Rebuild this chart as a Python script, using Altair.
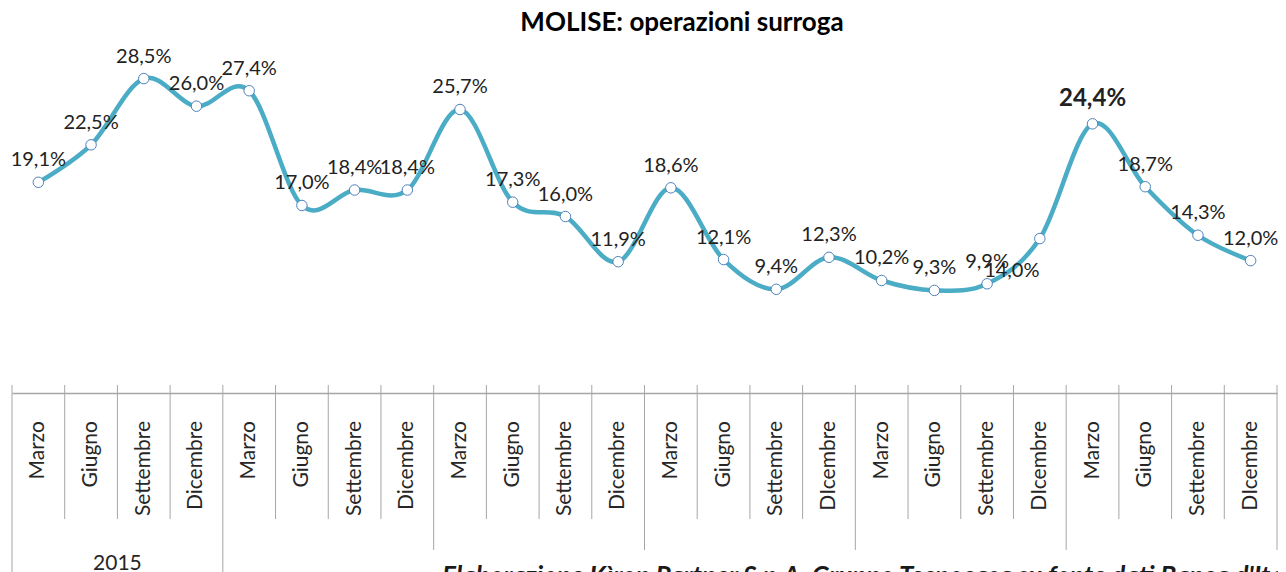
import altair as alt
import pandas as pd

# ---- data ----
months = ["Marzo", "Giugno", "Settembre", "Dicembre",
          "Marzo", "Giugno", "Settembre", "Dicembre",
          "Marzo", "Giugno", "Settembre", "Dicembre",
          "Marzo", "Giugno", "Settembre", "DIcembre",
          "Marzo", "Giugno", "Settembre", "DIcembre",
          "Marzo", "Giugno", "Settembre", "DIcembre"]
values = [19.1, 22.5, 28.5, 26.0, 27.4, 17.0, 18.4, 18.4,
          25.7, 17.3, 16.0, 11.9, 18.6, 12.1, 9.4, 12.3,
          10.2, 9.3, 9.9, 14.0, 24.4, 18.7, 14.3, 12.0]
years = ["2015", "2016", "2017", "2018", "2019", "2020"]
visible_years = ["2015"]  # the others are hidden behind the source note
title_text = "MOLISE: operazioni surroga"
source_text = "Elaborazione Kìron Partner S.p.A. Gruppo Tecnocasa su fonte dati Banca d'Italia"
highlight_idx = 20   # bold label
shifted_idx = 19     # label placed below-left

n = len(values)
df = pd.DataFrame({"idx": list(range(n)), "month": months, "value": values})
df["label"] = [f"{v:.1f}".replace(".", ",") + "%" for v in values]
df["kind"] = ["bold" if i == highlight_idx else ("shift" if i == shifted_idx else "normal")
              for i in range(n)]

cat_bounds = pd.DataFrame({"b": [i - 0.5 for i in range(n + 1)]})
year_bounds = pd.DataFrame({"b": [i * 4 - 0.5 for i in range(len(years) + 1)]})
year_bounds["long"] = [b < 4 for b in year_bounds["b"]]
year_df = pd.DataFrame({"year": years, "center": [i * 4 + 1.5 for i in range(len(years))]})
year_df = year_df[year_df["year"].isin(visible_years)]

FONT = "Lato"
xs = alt.Scale(domain=[-0.5, n - 0.5], nice=False, zero=False)
ys = alt.Scale(domain=[0, 32], nice=False, zero=True)

X = alt.X("idx:Q", scale=xs, axis=alt.Axis(labels=False, ticks=False, grid=False,
                                             domainColor="#a6a6a6", domainWidth=1.3, title=None))
Y = alt.Y("value:Q", scale=ys, axis=None)

base = alt.Chart(df)

line = base.mark_line(interpolate="cardinal", color="#4BACC6", strokeWidth=4.5).encode(x=X, y=Y)
pts = base.mark_point(filled=True, fill="white", stroke="#4F81BD", strokeWidth=1,
                      size=110, opacity=1).encode(x=X, y=Y)

lab_norm = base.transform_filter("datum.kind == 'normal'").mark_text(
    font=FONT, fontSize=20, color="#222222", dy=-22, baseline="middle", align="center"
).encode(x=X, y=Y, text="label:N")
lab_bold = base.transform_filter("datum.kind == 'bold'").mark_text(
    font=FONT, fontSize=24, fontWeight="bold", color="#222222", dy=-25, baseline="middle", align="center"
).encode(x=X, y=Y, text="label:N")
lab_shift = base.transform_filter("datum.kind == 'shift'").mark_text(
    font=FONT, fontSize=20, color="#222222", dx=-28, dy=32, baseline="middle", align="center"
).encode(x=X, y=Y, text="label:N")

month_lab = base.mark_text(font=FONT, fontSize=21, color="#262626", angle=270,
                           align="right", baseline="middle").encode(
    x=alt.X("idx:Q", scale=xs), y=alt.value(381), text="month:N")

cat_rules = alt.Chart(cat_bounds).mark_rule(color="#a6a6a6", strokeWidth=1).encode(
    x=alt.X("b:Q", scale=xs), y=alt.value(345), y2=alt.value(479))
yr_short = alt.Chart(year_bounds).transform_filter("!datum.long").mark_rule(
    color="#a6a6a6", strokeWidth=1).encode(
    x=alt.X("b:Q", scale=xs), y=alt.value(479), y2=alt.value(510))
yr_long = alt.Chart(year_bounds).transform_filter("datum.long").mark_rule(
    color="#a6a6a6", strokeWidth=1).encode(
    x=alt.X("b:Q", scale=xs), y=alt.value(479), y2=alt.value(545))
yr_lab = alt.Chart(year_df).mark_text(font=FONT, fontSize=21, color="#262626",
                                      baseline="alphabetic", align="center").encode(
    x=alt.X("center:Q", scale=xs), y=alt.value(530), text="year:N")

title = alt.Chart(pd.DataFrame({"t": [title_text]})).mark_text(
    font=FONT, fontSize=26, fontWeight="bold", color="#000000",
    align="center", baseline="alphabetic").encode(
    x=alt.value(670), y=alt.value(-9), text="t:N")

src = alt.Chart(pd.DataFrame({"t": [source_text]})).mark_text(
    font=FONT, fontSize=26, fontWeight="bold", fontStyle="italic", color="#1a1a1a",
    align="left", baseline="alphabetic").encode(
    x=alt.value(430), y=alt.value(545), text="t:N")

chart = alt.layer(cat_rules, yr_short, yr_long, line, pts, lab_norm, lab_bold, lab_shift,
                  month_lab, yr_lab, title, src).properties(
    width=1265, height=353,
    autosize=alt.AutoSizeParams(type="none"),
    padding={"left": 4, "top": 32, "right": 1, "bottom": 185},
).configure_view(strokeWidth=0)

chart.save("out.html", embed_options={"renderer": "svg", "actions": False})
